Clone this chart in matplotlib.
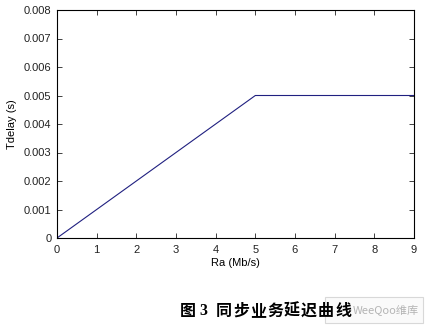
import matplotlib
matplotlib.use("Agg")
import matplotlib.pyplot as plt
from matplotlib.patches import Rectangle

ra = [0, 1, 2, 3, 4, 5, 6, 7, 8, 9]
tdelay = [0.0, 0.001, 0.002, 0.003, 0.004, 0.005, 0.005, 0.005, 0.005, 0.005]
xticks = [0, 1, 2, 3, 4, 5, 6, 7, 8, 9]
yticks = [0, 0.001, 0.002, 0.003, 0.004, 0.005, 0.006, 0.007, 0.008]
ytick_labels = ["0", "0.001", "0.002", "0.003", "0.004", "0.005", "0.006", "0.007", "0.008"]
caption_label = "图"
caption_num = "3"
caption_title = "同步业务延迟曲线"
watermark = "WeeQoo维库"

plt.rcParams['font.family'] = ['Liberation Sans', 'DejaVu Sans']
fig = plt.figure(figsize=(4.29, 3.28), dpi=100)
ax = fig.add_axes([57/429, 1 - 238/328, (414-57)/429, (238-10)/328])
ax.plot(ra, tdelay, color='#202080', linewidth=0.8)
ax.set_xlim(0, 9)
ax.set_ylim(0, 0.008)
ax.set_xticks(xticks)
ax.set_yticks(yticks)
ax.set_yticklabels(ytick_labels)
ax.tick_params(direction='in', top=True, right=True, labelsize=8, length=3.5, width=0.6, colors='#222222')
ax.tick_params(axis='x', pad=5)
ax.tick_params(axis='y', pad=4)
for s in ax.spines.values():
    s.set_linewidth(0.8)
ax.set_xlabel('Ra (Mb/s)', fontsize=8, labelpad=2)
ax.set_ylabel('Tdelay (s)', fontsize=8, labelpad=5)

cjk = ['Noto Sans CJK SC', 'DejaVu Sans']
cy = 1 - 311/328
# watermark box (behind caption)
fig.patches.append(Rectangle((325/429, 1 - 323/328), (423-325)/429, (323-297)/328,
                             transform=fig.transFigure, facecolor='#fafafa',
                             edgecolor='#d8d8d8', linewidth=0.8, zorder=1))
fig.text(419/429, cy, watermark, fontsize=8, color='#b4b4b4',
         family=cjk, va='center', ha='right', zorder=2)

fig.text(180/429, cy, caption_label, fontsize=11.5, fontweight='bold',
         family=cjk, va='center', ha='left', zorder=3)
fig.text(199/429, cy, caption_num, fontsize=11.5, fontweight='bold',
         family=['Liberation Serif', 'DejaVu Serif'], va='center', ha='left', zorder=3)
pitch = 17.0
for i, ch in enumerate(caption_title):
    fig.text((216 + i * pitch)/429, cy, ch, fontsize=11.5, fontweight='bold',
             family=cjk, va='center', ha='left', zorder=3)
fig.savefig('out.png', dpi=100)
